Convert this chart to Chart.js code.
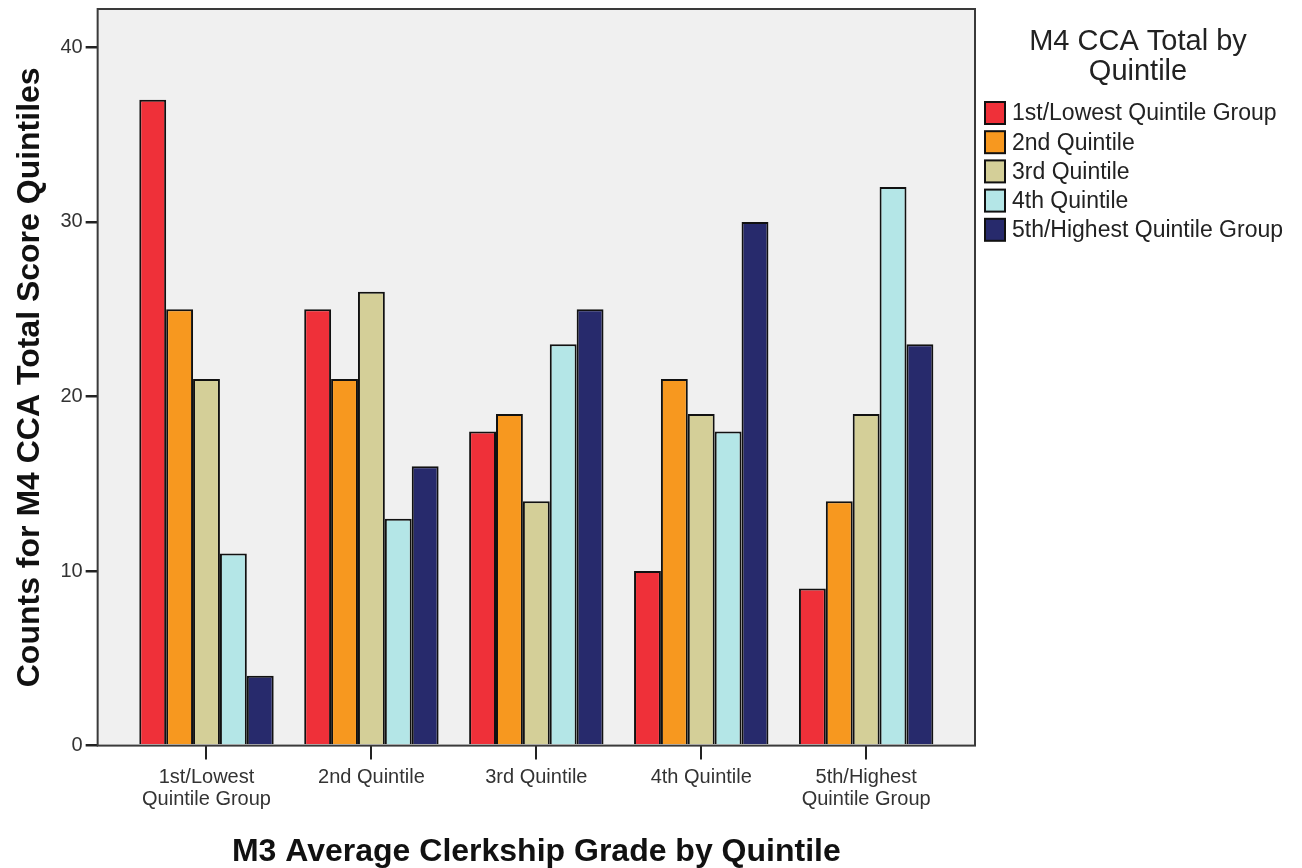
<!DOCTYPE html>
<html>
<head>
<meta charset="utf-8">
<script src="https://cdn.jsdelivr.net/npm/chart.js@4"></script>
<style>
  body { margin: 0; background: #fff; }
  #wrap { width: 1302px; height: 868px; }
</style>
</head>
<body>
<div id="wrap"><canvas id="chart" width="1302" height="868"></canvas></div>
<script>
// ===== Data =====
const categories = [
  ['1st/Lowest', 'Quintile Group'],
  '2nd Quintile',
  '3rd Quintile',
  '4th Quintile',
  ['5th/Highest', 'Quintile Group']
];
const seriesNames = [
  '1st/Lowest Quintile Group',
  '2nd Quintile',
  '3rd Quintile',
  '4th Quintile',
  '5th/Highest Quintile Group'
];
const q1 = [37, 25, 18, 10, 9];
const q2 = [25, 21, 19, 21, 14];
const q3 = [21, 26, 14, 19, 19];
const q4 = [11, 13, 23, 18, 32];
const q5 = [4, 16, 25, 30, 23];
const yTicks = [0, 10, 20, 30, 40];
const legendTitle = ['M4 CCA Total by', 'Quintile'];

const colors = ['#ef3039', '#f7981f', '#d4cf98', '#b4e6e7', '#272a6c'];
const seriesValues = [q1, q2, q3, q4, q5];

// extra empty room at each end of the x axis, in categories (SPSS style)
const xPadCats = 0.16;

// ===== Plot frame =====
const framePlugin = {
  id: 'frame',
  beforeDatasetsDraw(chart) {
    const { ctx, chartArea: a } = chart;
    ctx.save();
    ctx.fillStyle = '#f0f0f0';
    ctx.fillRect(a.left, a.top, a.right - a.left, a.bottom - a.top);
    ctx.restore();
  },
  afterDatasetsDraw(chart) {
    const { ctx, chartArea: a } = chart;
    ctx.save();
    ctx.strokeStyle = '#3a3a3a';
    ctx.lineWidth = 2;
    ctx.strokeRect(a.left, a.top, a.right - a.left, a.bottom - a.top);
    ctx.restore();
  }
};

// ===== Legend to the right of the plot =====
const sideLegend = {
  id: 'sideLegend',
  afterDraw(chart) {
    const { ctx, chartArea: a } = chart;
    const x0 = a.right + 10;
    ctx.save();
    ctx.fillStyle = '#222';
    ctx.textAlign = 'center';
    ctx.textBaseline = 'middle';
    ctx.font = '29px "Liberation Sans", Arial, sans-serif';
    legendTitle.forEach((line, i) => ctx.fillText(line, 1138, 42 + i * 30));

    ctx.textAlign = 'left';
    ctx.font = '23px "Liberation Sans", Arial, sans-serif';
    chart.data.datasets.forEach((ds, i) => {
      const yc = 113 + i * 29.2;
      ctx.fillStyle = ds.backgroundColor;
      ctx.fillRect(x0, yc - 11, 20, 22);
      ctx.strokeStyle = '#111';
      ctx.lineWidth = 2;
      ctx.strokeRect(x0, yc - 11, 20, 22);
      ctx.fillStyle = '#222';
      ctx.fillText(ds.label, x0 + 27, yc + 1);
    });
    ctx.restore();
  }
};

new Chart(document.getElementById('chart'), {
  type: 'bar',
  data: {
    labels: categories,
    datasets: seriesNames.map((name, i) => ({
      label: name,
      data: seriesValues[i],
      backgroundColor: colors[i],
      borderColor: '#111',
      borderWidth: 2,
      barPercentage: 1,
      categoryPercentage: 0.815
    }))
  },
  options: {
    responsive: false,
    animation: false,
    layout: { padding: { top: 9, right: 327, bottom: -3, left: 2 } },
    plugins: {
      tooltip: { enabled: false },
      legend: { display: false }
    },
    scales: {
      x: {
        offset: true,
        afterBuildTicks(axis) {
          // widen the value range so the groups sit in from both plot edges
          axis._startValue = -0.5 - xPadCats;
          axis._valueRange = categories.length + 2 * xPadCats;
        },
        grid: { offset: false, drawOnChartArea: false, tickLength: 14, color: '#222', lineWidth: 2 },
        border: { display: false },
        ticks: {
          color: '#333',
          font: { family: 'Liberation Sans', size: 20, lineHeight: 1.1 },
          maxRotation: 0,
          padding: 7
        },
        title: {
          display: true,
          text: 'M3 Average Clerkship Grade by Quintile',
          color: '#111',
          font: { family: 'Liberation Sans', size: 32, weight: 'bold' },
          padding: { top: 15, bottom: 0 }
        }
      },
      y: {
        min: 0,
        max: 42.2,
        afterBuildTicks(axis) {
          axis.ticks = yTicks.map(v => ({ value: v }));
        },
        grid: { drawOnChartArea: false, tickLength: 12, color: '#222', lineWidth: 2.5 },
        border: { display: false },
        // small lineHeight keeps the top label from pushing the plot down
        ticks: { color: '#333', font: { family: 'Liberation Sans', size: 20, lineHeight: 0.5 }, padding: 3 },
        title: {
          display: true,
          text: 'Counts for M4 CCA Total Score Quintiles',
          color: '#111',
          font: { family: 'Liberation Sans', size: 32, weight: 'bold' },
          padding: { top: 9, bottom: 8 }
        }
      }
    }
  },
  plugins: [framePlugin, sideLegend]
});
</script>
</body>
</html>
